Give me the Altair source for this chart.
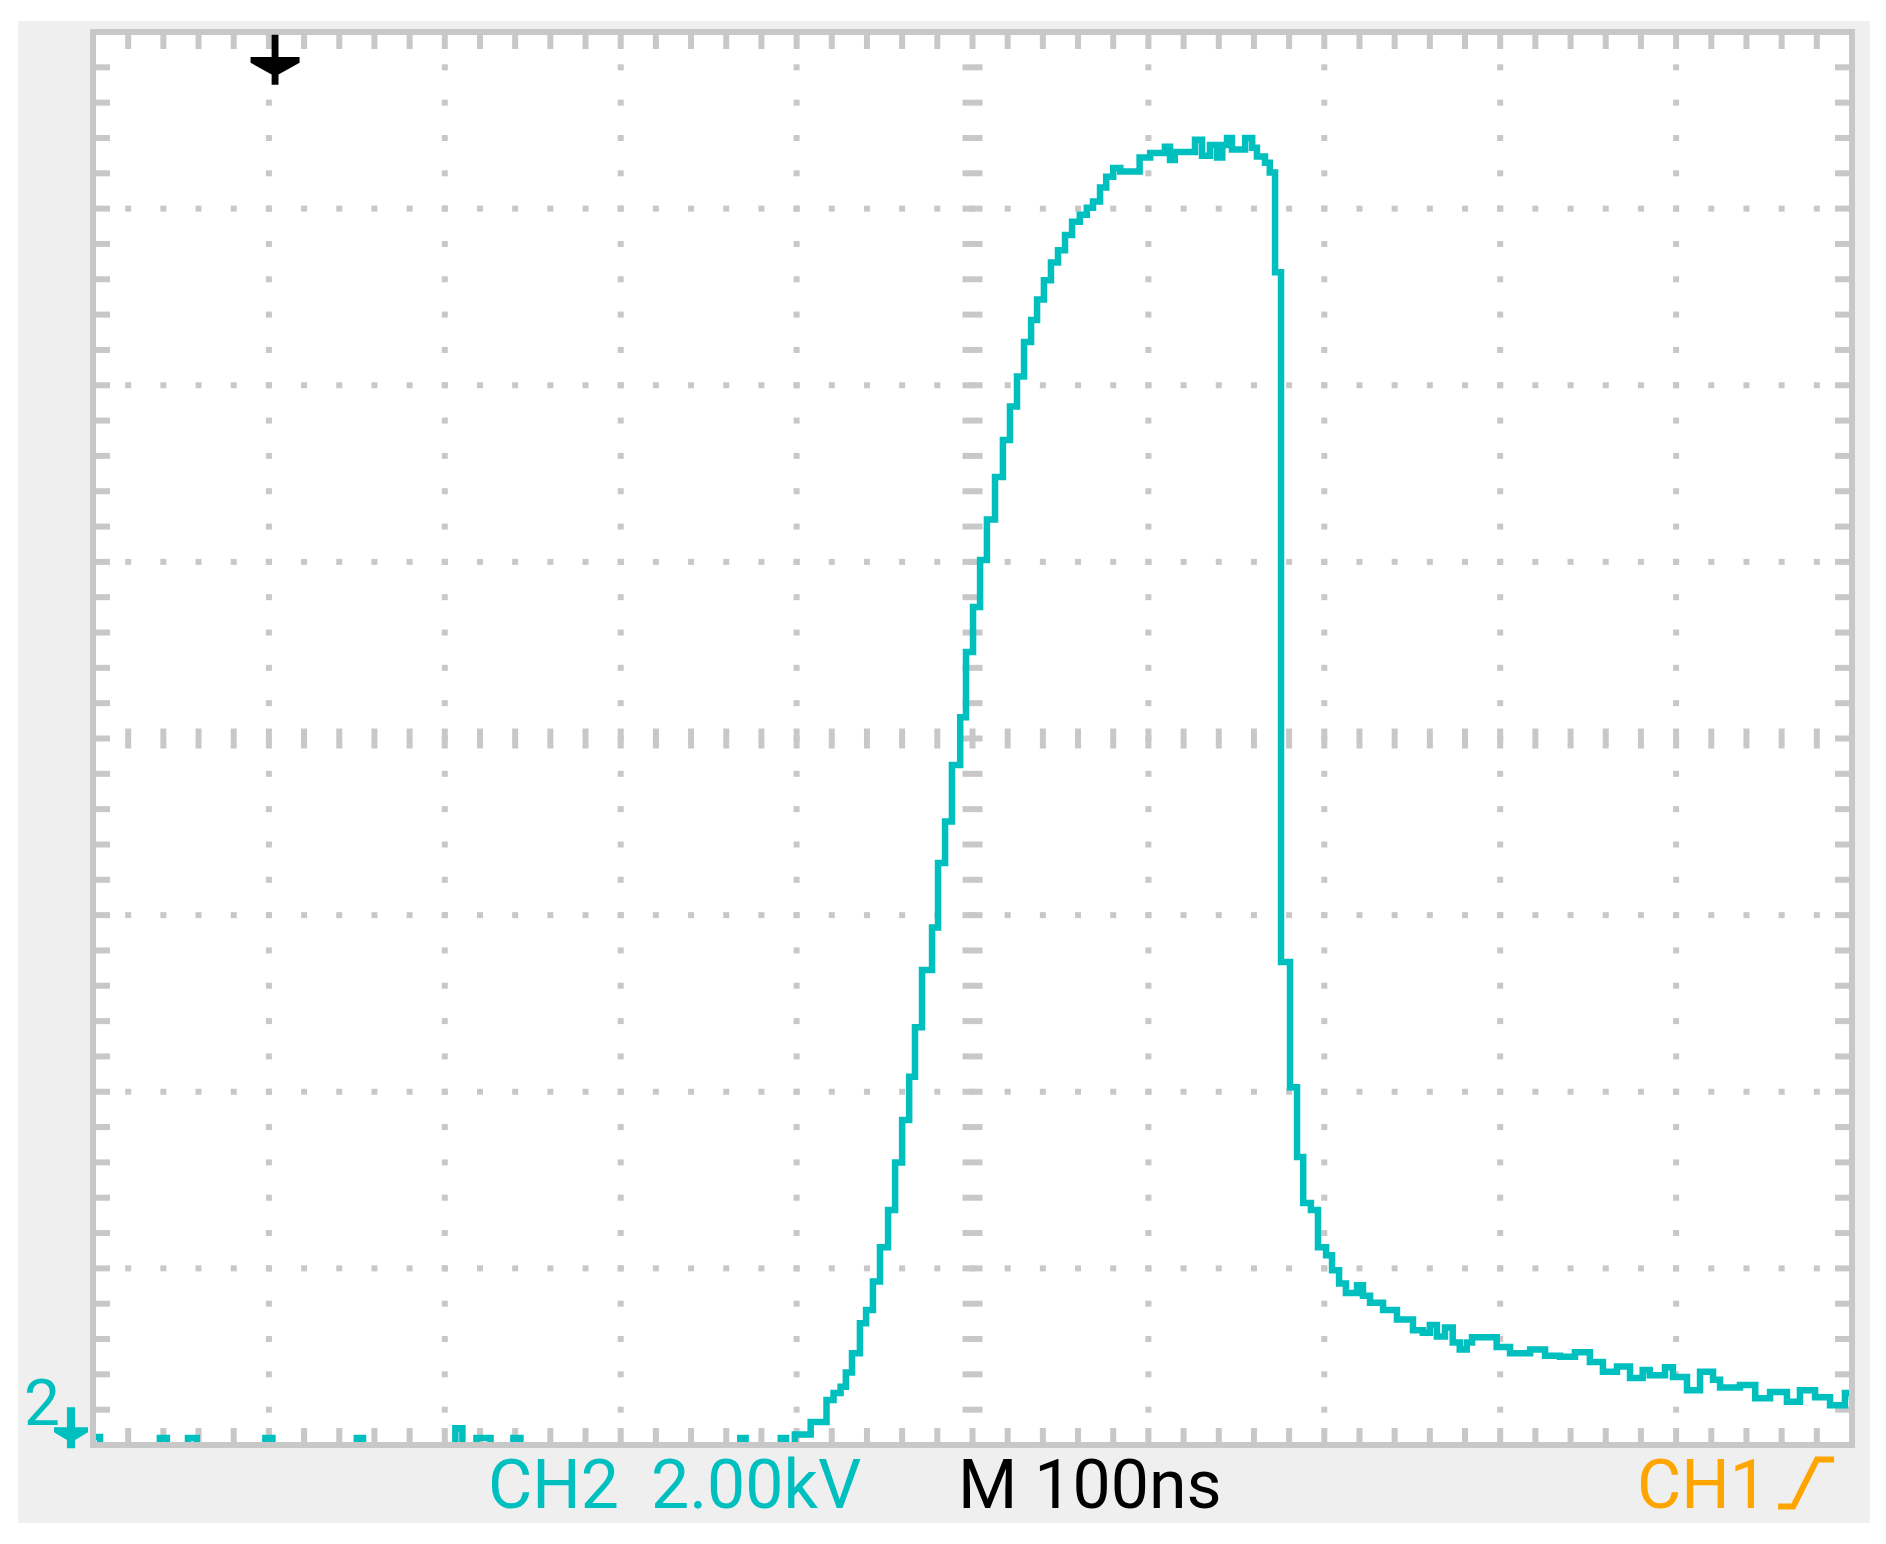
import altair as alt
import pandas as pd
import numpy as np

# CH2 trace: time in ns (100 ns/div), voltage in kV (2 kV/div)
t_ns = [0, 4, 38, 42, 54, 59, 98, 102, 150, 153.5, 206, 210, 218, 226, 239, 243, 368, 371, 391, 394,
        399, 408, 417, 421, 425, 428, 431.5, 436, 439.5, 443.4, 447.4, 452, 456, 460, 464, 467.3,
        471.3, 477, 480.4, 484.4, 488.3, 493, 496.3, 500.3, 504.3, 508.2, 512.8, 517.3, 521.3, 525.3,
        529.3, 533.3, 536.7, 540.6, 544.6, 548.6, 552.6, 556.6, 561, 565, 568.5, 572.5, 576, 580,
        584, 595, 601, 609.4, 612.3, 615, 626.5, 630.5, 635, 639, 642, 644.7, 647.5, 655, 659, 661.7,
        666.3, 669, 672, 675.4, 680.5, 684.5, 688, 692.4, 696.4, 701, 704.4, 708.4, 712.3, 718.6, 722,
        726, 733.4, 741.3, 750.4, 756, 760, 764, 768.6, 773, 777, 781, 784, 798, 805.6, 817, 825.5,
        834, 842.5, 851, 858.4, 866.4, 873.8, 881, 885, 893.7, 898.2, 906.2, 913.6, 921, 925, 936.3,
        945, 953.4, 963, 970.4, 979, 987.5, 996, 1000]
kv = [0.09, -0.3, 0.08, -0.3, 0.08, -0.3, 0.08, -0.3, 0.08, -0.3, 0.19, -0.3, 0.08, -0.3, 0.08, -0.3,
      0.08, -0.3, 0.08, -0.3,
      0.12, 0.26, 0.51, 0.59, 0.66, 0.82, 1.04, 1.38, 1.53, 1.85, 2.24, 2.66, 3.20, 3.68, 4.17, 4.73,
      5.38, 5.86, 6.59, 7.06, 7.70, 8.24, 8.98, 9.49, 10.02, 10.48, 10.96, 11.38, 11.76, 12.10,
      12.49, 12.74, 12.97, 13.19, 13.39, 13.53, 13.70, 13.85, 13.93, 14.01, 14.08, 14.24, 14.36, 14.46,
      14.42, 14.58, 14.63, 14.70, 14.55, 14.64, 14.78, 14.60, 14.72, 14.58, 14.72, 14.80, 14.67, 14.80,
      14.69, 14.59, 14.52, 14.41, 13.28, 5.47, 4.05, 3.26, 2.74, 2.66, 2.24, 2.15, 1.98, 1.83, 1.72,
      1.81, 1.69, 1.61, 1.53, 1.42, 1.30, 1.27, 1.36, 1.23, 1.33, 1.16, 1.08, 1.16, 1.22, 1.11, 1.04,
      1.08, 1.01, 1.00, 1.05, 0.94, 0.83, 0.89, 0.76, 0.85, 0.79, 0.88, 0.77, 0.62, 0.83, 0.74, 0.65,
      0.68, 0.53, 0.60, 0.49, 0.62, 0.54, 0.45, 0.59, 0.55]

# readout labels under the screen
labels = ['CH2', '2.00kV', 'M 100ns', 'CH1']
label_t = [224.6, 317.2, 491.8, 877.8]
label_v = [-0.713, -0.713, -0.713, -0.713]
label_color = ['#00bfbf', '#00bfbf', '#000000', '#ffa500']

major_t = [100, 200, 300, 400, 600, 700, 800, 900]
major_v = [2, 4, 6, 10, 12, 14]

CYAN = '#00bfbf'
GRID = '#c8c8c8'
FONT = 'Roboto'

W, H = 1759, 1413
xs = alt.Scale(domain=[0, 1000], nice=False, zero=False)
ys = alt.Scale(domain=[0, 16], nice=False, zero=False)


def X(f):
    return alt.X(f, type='quantitative', scale=xs, axis=None)


def Y(f):
    return alt.Y(f, type='quantitative', scale=ys, axis=None)


trace = pd.DataFrame({'t': t_ns, 'v': kv})
text_df = pd.DataFrame({'label': labels, 't': label_t, 'v': label_v, 'c': label_color})

minor_t = np.round(np.arange(20, 1000, 20), 4)
minor_v = np.round(np.arange(0.4, 16, 0.4), 4)
dots = pd.DataFrame([(t, v) for t in major_t for v in minor_v] +
                    [(t, v) for v in major_v for t in minor_t], columns=['t', 'v'])
cen_v = pd.DataFrame({'t': 500, 'v': minor_v})
cen_h = pd.DataFrame({'t': minor_t, 'v': 8})
one = pd.DataFrame({'a': [0]})

# symbol paths: one unit = sqrt(size) / 2 pixels
HDASH = 'M-1,-0.3L1,-0.3L1,0.3L-1,0.3Z'
VDASH = 'M-0.3,-1L0.3,-1L0.3,1L-0.3,1Z'
VTICK = 'M-0.43,-1L0.43,-1L0.43,1L-0.43,1Z'
HTICK = 'M-1,-0.43L1,-0.43L1,0.43L-1,0.43Z'
TRIG = ('M-0.14,-1.02L0.14,-1.02L0.14,-0.12L1,-0.12L1,0.12L0.14,0.6L0.14,1.02'
        'L-0.14,1.02L-0.14,0.6L-1,0.12L-1,-0.12L-0.14,-0.12Z')
GND = ('M-0.24,-1.24L0.24,-1.24L0.24,-0.06L1,-0.06L1,0.24L0.24,0.7L0.24,1.18'
       'L-0.24,1.18L-0.24,0.7L-1,0.24L-1,-0.06L-0.24,-0.06Z')
EDGE = 'M-1,0.84L-0.46,0.84L0.39,-0.84L1,-0.84'

frame = alt.Chart(one).mark_rect(color='#efefef').encode(
    x=alt.value(-75), x2=alt.value(1777), y=alt.value(-11), y2=alt.value(1491))
screen = alt.Chart(one).mark_rect(color='white').encode(
    x=alt.value(0), x2=alt.value(W), y=alt.value(0), y2=alt.value(H))

grid = alt.Chart(dots).mark_square(size=36, color=GRID, opacity=1).encode(x=X('t'), y=Y('v'))
center_v = alt.Chart(cen_v).mark_point(shape=HDASH, size=400, filled=True, color=GRID, opacity=1).encode(
    x=X('t'), y=Y('v'))
center_h = alt.Chart(cen_h).mark_point(shape=VDASH, size=400, filled=True, color=GRID, opacity=1).encode(
    x=X('t'), y=Y('v'))

tick_t = pd.DataFrame({'t': minor_t})
tick_v = pd.DataFrame({'v': minor_v})
tk = dict(filled=True, color=GRID, opacity=1, size=196)
top_ticks = alt.Chart(tick_t).mark_point(shape=VTICK, **tk).encode(x=X('t'), y=alt.value(10))
bot_ticks = alt.Chart(tick_t).mark_point(shape=VTICK, **tk).encode(x=X('t'), y=alt.value(H - 10))
left_ticks = alt.Chart(tick_v).mark_point(shape=HTICK, **tk).encode(x=alt.value(10), y=Y('v'))
right_ticks = alt.Chart(tick_v).mark_point(shape=HTICK, **tk).encode(x=alt.value(W - 10), y=Y('v'))

line = alt.Chart(trace).mark_line(
    interpolate='step-after', strokeWidth=6.5, color=CYAN, clip=True, strokeCap='square'
).encode(x=X('t'), y=Y('v'))

border = alt.Chart(one).mark_rect(fillOpacity=0, stroke=GRID, strokeWidth=6).encode(
    x=alt.value(0), x2=alt.value(W), y=alt.value(0), y2=alt.value(H))

readout = alt.Chart(text_df).mark_text(
    font=FONT, fontSize=68, align='left', baseline='alphabetic'
).encode(x=X('t'), y=Y('v'), text='label:N', color=alt.Color('c:N', scale=None))

gnd_label = alt.Chart(pd.DataFrame({'t': [-39.2], 'v': [0.226], 'label': ['2']})).mark_text(
    font=FONT, fontSize=64, align='left', baseline='alphabetic', color=CYAN
).encode(x=X('t'), y=Y('v'), text='label:N')
gnd_arrow = alt.Chart(pd.DataFrame({'t': [-12.5], 'v': [0.19]})).mark_point(
    shape=GND, size=1156, filled=True, color=CYAN, opacity=1).encode(x=X('t'), y=Y('v'))
trig_arrow = alt.Chart(pd.DataFrame({'t': [103.5], 'v': [15.685]})).mark_point(
    shape=TRIG, size=2401, filled=True, color='black', opacity=1).encode(x=X('t'), y=Y('v'))
edge = alt.Chart(pd.DataFrame({'t': [973.9], 'v': [-0.43]})).mark_point(
    shape=EDGE, size=3136, filled=False, strokeWidth=6, color='#ffa500', opacity=1).encode(x=X('t'), y=Y('v'))

chart = alt.layer(
    frame, screen, grid, center_v, center_h, top_ticks, bot_ticks, left_ticks, right_ticks,
    line, border, readout, gnd_label, gnd_arrow, trig_arrow, edge
).properties(
    width=W, height=H,
    autosize=alt.AutoSizeParams(type='none'),
    padding={'left': 85, 'top': 24, 'right': 26, 'bottom': 85}
).configure(background='white').configure_view(strokeWidth=0)

chart.save("out.html", embed_options={"renderer": "svg", "actions": False})
